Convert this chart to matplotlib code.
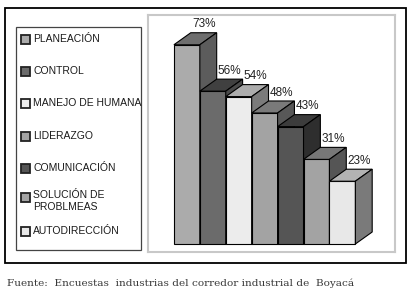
import numpy as np
import matplotlib
matplotlib.use("Agg")
import matplotlib.pyplot as plt
from matplotlib.patches import Rectangle, Polygon

# data
categories = ["PLANEACIÓN", "CONTROL", "MANEJO DE HUMANA", "LIDERAZGO",
              "COMUNICACIÓN", "SOLUCIÓN DE\nPROBLMEAS", "AUTODIRECCIÓN"]
values = [73, 56, 54, 48, 43, 31, 23]
labels = ["73%", "56%", "54%", "48%", "43%", "31%", "23%"]

# front / top / side shades of each bar
front_cols = ["#ababab", "#6b6b6b", "#ececec", "#a3a3a3", "#555555", "#a3a3a3", "#e8e8e8"]
top_cols = ["#6e6e6e", "#404040", "#acacac", "#7a7a7a", "#3c3c3c", "#777777", "#b3b3b3"]
side_cols = ["#5c5c5c", "#4a4a4a", "#7b7b7b", "#585858", "#2e2e2e", "#555555", "#7a7a7a"]

caption = "Fuente:  Encuestas  industrias del corredor industrial de  Boyacá"

W, H = 420, 308
fig = plt.figure(figsize=(W / 100, H / 100), dpi=100)
fig.patch.set_facecolor("white")

# overlay axes in pixel units for frames, legend and caption
ov = fig.add_axes([0, 0, 1, 1])
ov.set_xlim(0, W)
ov.set_ylim(H, 0)
ov.axis("off")

ov.add_patch(Rectangle((5, 8), 401, 255, fill=False, edgecolor="black", lw=1.3))
ov.add_patch(Rectangle((16, 27), 125, 223, fill=False, edgecolor="#444444", lw=0.9))

leg_y = [39, 71, 103, 136, 168, 201, 231]
for lab, col, y in zip(categories, front_cols, leg_y):
    sq_y = y - 4 if "\n" in lab else y
    ov.add_patch(Rectangle((20.5, sq_y - 4.5), 9, 9, facecolor=col,
                           edgecolor="#222222", lw=1.3))
    ov.text(33, y, lab, fontsize=7.5, family="Liberation Sans", va="center",
            ha="left", color="#1a1a1a", linespacing=1.3)

ov.text(7, 283, caption, fontsize=7.55, family="DejaVu Serif", va="center",
        ha="left", color="#3a3a3a")

# plot area axes: bars in data units
left, right, top, bottom = 148, 395, 15, 252
ax = fig.add_axes([left / W, 1 - bottom / H, (right - left) / W, (bottom - top) / H])
ax.set_xlim(-1.0, 8.53)
ax.set_ylim(-2.93, 83.9)
ax.set_xticks([])
ax.set_yticks([])
for s in ax.spines.values():
    s.set_edgecolor("#c8c8c8")
    s.set_linewidth(1.5)

dx, dy = 0.65, 4.4
x = np.arange(len(values))
for i, (xi, h) in enumerate(zip(x, values)):
    z = 2 + i
    ax.add_patch(Polygon([(xi, 0), (xi + 1, 0), (xi + 1, h), (xi, h)], closed=True,
                         facecolor=front_cols[i], edgecolor="black", lw=0.8, zorder=z))
    ax.add_patch(Polygon([(xi, h), (xi + 1, h), (xi + 1 + dx, h + dy), (xi + dx, h + dy)],
                         closed=True, facecolor=top_cols[i], edgecolor="black",
                         lw=0.8, zorder=z))
    ax.add_patch(Polygon([(xi + 1, 0), (xi + 1 + dx, dy), (xi + 1 + dx, h + dy), (xi + 1, h)],
                         closed=True, facecolor=side_cols[i], edgecolor="black",
                         lw=0.8, zorder=z))
    ax.text(xi + 0.5 + dx, h + dy + 0.9, labels[i], fontsize=8.5,
            family="Liberation Sans", ha="center", va="bottom", color="#222222",
            zorder=20)

fig.savefig("out.png", dpi=100)
